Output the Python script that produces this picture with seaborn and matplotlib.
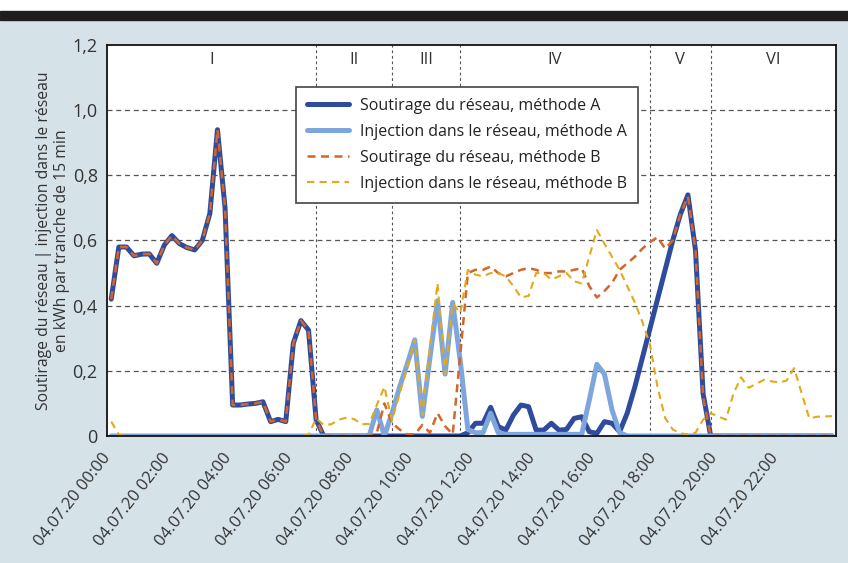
import numpy as np
import pandas as pd
import matplotlib
matplotlib.use("Agg")
import matplotlib.pyplot as plt
import seaborn as sns
from matplotlib.patches import Rectangle

# kWh per 15-min slot, 04.07.20 (96 slots)
soutirage_a = [0.42, 0.58, 0.58, 0.553, 0.558, 0.559, 0.53, 0.586, 0.615, 0.59,
               0.578, 0.571, 0.60, 0.683, 0.94, 0.70, 0.095, 0.095, 0.098, 0.10,
               0.105, 0.044, 0.051, 0.044, 0.285, 0.354, 0.325, 0.05, 0.0, 0.0,
               0.0, 0.0, 0.0, 0.0, 0.0, 0.0, 0.0, 0.0, 0.0, 0.0,
               0.0, 0.0, 0.0, 0.0, 0.0, 0.0, 0.0, 0.01, 0.039, 0.039,
               0.088, 0.029, 0.018, 0.064, 0.095, 0.09, 0.018, 0.018, 0.039, 0.018,
               0.02, 0.054, 0.059, 0.013, 0.008, 0.044, 0.039, 0.013, 0.07, 0.15,
               0.24, 0.33, 0.42, 0.51, 0.60, 0.68, 0.74, 0.57, 0.13, 0.0,
               0.0, 0.0, 0.0, 0.0, 0.0, 0.0, 0.0, 0.0, 0.0, 0.0,
               0.0, 0.0, 0.0, 0.0, 0.0, 0.0]

injection_a = [0.0] * 35 + [
               0.08, 0.0, 0.07, 0.15, 0.22, 0.295, 0.06, 0.24, 0.415, 0.19,
               0.41, 0.23, 0.02, 0.01, 0.01, 0.07, 0.01, 0.005, 0.005, 0.005,
               0.005, 0.005, 0.005, 0.005, 0.005, 0.005, 0.005, 0.005, 0.11, 0.22,
               0.19, 0.08, 0.01] + [0.0] * 28

soutirage_b = soutirage_a[:28] + [
               0.0, 0.0, 0.0, 0.0, 0.0, 0.0, 0.0, 0.01, 0.10, 0.04,
               0.02, 0.005, 0.005, 0.034, 0.01, 0.07, 0.03, 0.005, 0.25, 0.50,
               0.51, 0.51, 0.52, 0.50, 0.49, 0.50, 0.51, 0.515, 0.51, 0.50,
               0.50, 0.505, 0.505, 0.51, 0.515, 0.46, 0.425, 0.445, 0.47, 0.51,
               0.53, 0.55, 0.575, 0.595, 0.61, 0.575, 0.60, 0.68, 0.735, 0.57,
               0.12] + [0.0] * 17

injection_b = [0.044, 0.005] + [0.0] * 24 + [
               0.003, 0.054, 0.034, 0.036, 0.05, 0.056, 0.052, 0.036, 0.037, 0.095,
               0.151, 0.047, 0.13, 0.21, 0.295, 0.064, 0.27, 0.469, 0.19, 0.407,
               0.377, 0.51, 0.495, 0.49, 0.50, 0.50, 0.49, 0.46, 0.425, 0.43,
               0.50, 0.50, 0.48, 0.49, 0.50, 0.475, 0.468, 0.55, 0.632, 0.59,
               0.55, 0.51, 0.46, 0.41, 0.35, 0.28, 0.15, 0.055, 0.02, 0.008,
               0.005, 0.01, 0.05, 0.07, 0.06, 0.05, 0.13, 0.18, 0.148, 0.16,
               0.172, 0.168, 0.164, 0.17, 0.208, 0.13, 0.054, 0.059, 0.06, 0.061]

periods = ["I", "II", "III", "IV", "V", "VI"]
period_bounds = [6.875, 9.375, 11.625, 17.875, 19.875]  # hours

labels = ["Soutirage du réseau, méthode A", "Injection dans le réseau, méthode A",
          "Soutirage du réseau, méthode B", "Injection dans le réseau, méthode B"]

hours = (np.arange(96) + 0.5) / 4
df = pd.DataFrame({"h": hours, "sa": soutirage_a, "ia": injection_a,
                   "sb": soutirage_b, "ib": injection_b})

bg = "#D5E3E8"
sns.set_theme(style="white")
plt.rcParams["font.family"] = ["Open Sans", "DejaVu Sans"]

fig = plt.figure(figsize=(8.48, 5.63), dpi=100, facecolor=bg)
fig.add_artist(Rectangle((0, 0.98), 1, 0.02, transform=fig.transFigure, color="white", zorder=0))
fig.add_artist(Rectangle((0, 0.965), 1, 0.016, transform=fig.transFigure, color="#1e1e1e", zorder=1))
ax = fig.add_axes([0.1267, 0.2256, 0.859, 0.6945])
ax.set_facecolor("white")

sns.lineplot(data=df, x="h", y="sa", ax=ax, color="#2F4B9E", lw=3.6, label=labels[0])
sns.lineplot(data=df, x="h", y="ia", ax=ax, color="#7EA6DD", lw=3.6, label=labels[1])
sns.lineplot(data=df, x="h", y="sb", ax=ax, color="#D2662B", lw=1.8,
             linestyle=(0, (3.2, 2.2)), label=labels[2])
sns.lineplot(data=df, x="h", y="ib", ax=ax, color="#E2A91B", lw=1.5,
             linestyle=(0, (3.5, 2.5)), label=labels[3])

ax.set_xlim(0, 24)
ax.set_ylim(0, 1.2)

yt = [0, 0.2, 0.4, 0.6, 0.8, 1.0, 1.2]
ax.set_yticks(yt)
ax.set_yticklabels(["0" if v == 0 else f"{v:.1f}".replace(".", ",") for v in yt],
                   fontsize=13, color="#333333")
ax.tick_params(axis="y", length=0, pad=7)
for v in yt[1:-1]:
    ax.axhline(v, color="#555555", lw=0.9, linestyle=(0, (4, 3)), zorder=0.5)

ax.set_xticks(range(25))
ax.set_xticklabels([f"04.07.20 {h:02d}:00" if h % 2 == 0 and h < 24 else "" for h in range(25)],
                   rotation=52, ha="right", va="center", rotation_mode="anchor",
                   fontsize=12, color="#333333")
ax.tick_params(axis="x", length=5, width=1.3, color="#111111", direction="out", pad=9)

for b in period_bounds:
    ax.axvline(b, color="#555555", lw=0.8, linestyle=(0, (2.5, 2.5)), zorder=0.5)
edges = [0] + period_bounds + [24]
for name, a, b in zip(periods, edges[:-1], edges[1:]):
    ax.text((a + b) / 2, 0.962, name, transform=ax.get_xaxis_transform(),
            ha="center", va="center", fontsize=12, color="#333333")

for s in ax.spines.values():
    s.set_color("#111111")
    s.set_linewidth(1.3)

ax.set_xlabel("")
ax.set_ylabel("Soutirage du réseau | injection dans le réseau\nen kWh par tranche de 15 min",
              fontsize=11.3, color="#333333", labelpad=2, linespacing=1.1)

leg = ax.legend(loc="upper left", bbox_to_anchor=(0.259, 0.893), borderaxespad=0,
                fontsize=11.5, frameon=True, fancybox=False, handlelength=2.6,
                handletextpad=0.7, labelspacing=0.62, borderpad=0.7)
leg.get_frame().set_edgecolor("#444444")
leg.get_frame().set_linewidth(1.2)
leg.get_frame().set_alpha(1)
for t in leg.get_texts():
    t.set_color("#222222")

fig.savefig("out.png", dpi=100, facecolor=bg)
